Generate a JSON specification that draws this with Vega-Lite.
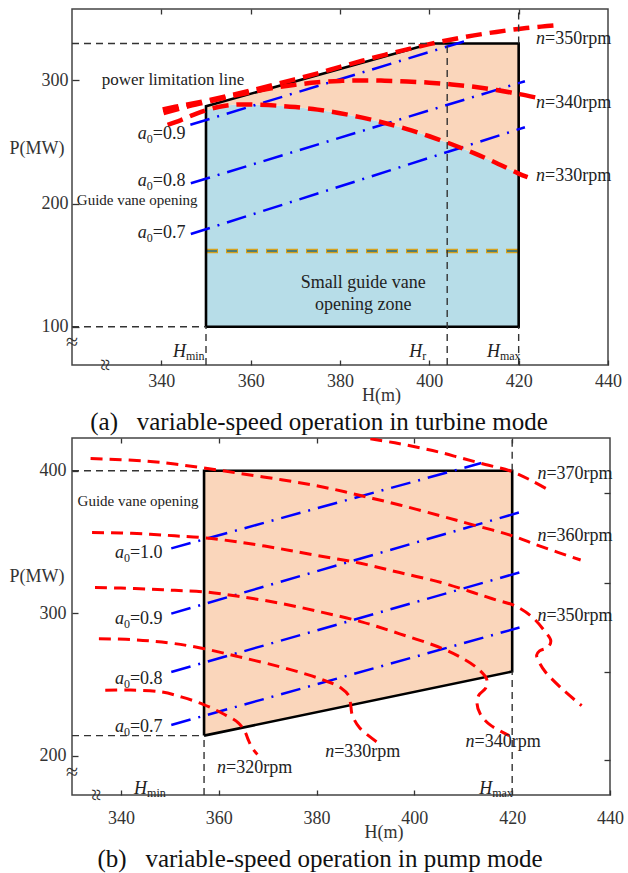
{
"$schema":"https://vega.github.io/schema/vega-lite/v6.json",
"padding":{"left":8,"top":7,"right":5,"bottom":0},
"spacing":0,
"config":{
 "view":{"stroke":"#444","strokeWidth":1.5},
 "font":"Liberation Serif",
 "axis":{"labelFont":"Liberation Serif","titleFont":"Liberation Serif","labelFontSize":18,"titleFontSize":18,"titleFontWeight":"normal","labelColor":"#333","titleColor":"#333","tickColor":"#333","tickWidth":1.3,"grid":false,"domain":false,"labelFlush":false,"labelOverlap":false},
 "title":{"font":"Liberation Serif","fontSize":25,"fontWeight":"normal","color":"#111"},
 "text":{"font":"Liberation Serif","color":"#222","baseline":"middle"}
},
"vconcat":[
{
"width":536,"height":356,
"title":{"text":"(a)\u2002\u2005variable-speed operation in turbine mode","orient":"bottom","anchor":"middle","dx":-21,"offset":6},
"encoding":{
 "x":{"field":"H","type":"quantitative","scale":{"domain":[320,440],"nice":false,"zero":false},"axis":{"orient":"bottom","values":[340,360,380,400,420,440],"tickSize":-5,"labelPadding":12,"title":"H(m)","titleX":309,"titleY":30,"titleAlign":"center","titleBaseline":"middle"}},
 "y":{"field":"P","type":"quantitative","scale":{"domain":[69,358],"nice":false,"zero":false},"axis":{"orient":"left","values":[100,200,300],"tickSize":-7,"labelPadding":11,"title":"P(MW)","titleAngle":0,"titleX":-35.5,"titleY":139.5,"titleAlign":"center","titleBaseline":"middle"}}
},
"resolve":{"axis":{"x":"independent","y":"independent"}},
"layer":[
 {"layer":[
  {"data":{"values":[
   {"H":350,"P":100,"P2":275.8},{"H":353,"P":100,"P2":278.6},{"H":356,"P":100,"P2":280.2},{"H":358,"P":100,"P2":280.5},{"H":362,"P":100,"P2":280.2},{"H":366,"P":100,"P2":279.5},{"H":370,"P":100,"P2":278.4},{"H":375,"P":100,"P2":276.3},{"H":380,"P":100,"P2":273.4},{"H":385,"P":100,"P2":269.8},{"H":390,"P":100,"P2":265.5},{"H":395,"P":100,"P2":260.5},{"H":400,"P":100,"P2":254.7},{"H":405,"P":100,"P2":248.2},{"H":410,"P":100,"P2":241},{"H":415,"P":100,"P2":233},{"H":420,"P":100,"P2":224.4}
  ]},
   "mark":{"type":"area","color":"#b7dde8","opacity":1},
   "encoding":{"y2":{"field":"P2"}}},
  {"data":{"values":[
   {"H":350,"P":275.8,"P2":279.1},{"H":353,"P":278.6,"P2":282.1},{"H":356,"P":280.2,"P2":285.2},{"H":358,"P":280.5,"P2":287.2},{"H":362,"P":280.2,"P2":291.2},{"H":366,"P":279.5,"P2":295.3},{"H":370,"P":278.4,"P2":299.3},{"H":375,"P":276.3,"P2":304.4},{"H":380,"P":273.4,"P2":309.4},{"H":385,"P":269.8,"P2":314.5},{"H":390,"P":265.5,"P2":319.5},{"H":395,"P":260.5,"P2":324.6},{"H":400,"P":254.7,"P2":329.6},{"H":400.4,"P":254.2,"P2":330},{"H":405,"P":248.2,"P2":330},{"H":410,"P":241,"P2":330},{"H":415,"P":233,"P2":330},{"H":420,"P":224.4,"P2":330}
  ]},
   "mark":{"type":"area","color":"#fad6bb","opacity":1},
   "encoding":{"y2":{"field":"P2"}}},
  {"data":{"values":[{"H":350,"H2":420,"P":161.5,"P2":161.5}]},
   "layer":[
    {"mark":{"type":"rule","color":"#d6a21e","strokeWidth":4.5,"strokeDash":[12,8]},"encoding":{"x2":{"field":"H2"},"y2":{"field":"P2"}}},
    {"mark":{"type":"rule","color":"#24708f","strokeWidth":1.6,"strokeDash":[10,10],"strokeDashOffset":-1},"encoding":{"x2":{"field":"H2"},"y2":{"field":"P2"}}}
   ]},
  {"data":{"values":[
   {"i":0,"H":350,"P":100},{"i":1,"H":350,"P":279.1},{"i":2,"H":400.4,"P":330},{"i":3,"H":420,"P":330},{"i":4,"H":420,"P":100},{"i":5,"H":350,"P":100}
  ]},
   "mark":{"type":"line","color":"#000","strokeWidth":2.6,"strokeJoin":"miter"},
   "encoding":{"order":{"field":"i","type":"quantitative"}}},
  {"data":{"values":[
   {"a0":"0.9","H":346.5,"P":264},{"a0":"0.9","H":409,"P":333},
   {"a0":"0.8","H":346.6,"P":216.5},{"a0":"0.8","H":421.4,"P":299.4},
   {"a0":"0.7","H":346.6,"P":175.3},{"a0":"0.7","H":421.4,"P":262}
  ]},
   "mark":{"type":"line","color":"#0000ff","strokeWidth":2.5,"strokeDash":[20,8,2,8],"clip":true},
   "encoding":{"detail":{"field":"a0"}}},
  {"data":{"values":[
   {"n":"350","i":0,"H":340.3,"P":276.5},{"n":"350","i":1,"H":345,"P":280},{"n":"350","i":2,"H":350,"P":283.5},{"n":"350","i":3,"H":355,"P":287.5},{"n":"350","i":4,"H":360,"P":291.8},{"n":"350","i":5,"H":365,"P":296.3},{"n":"350","i":6,"H":370,"P":301},{"n":"350","i":7,"H":375,"P":305.8},{"n":"350","i":8,"H":380,"P":311},{"n":"350","i":9,"H":385,"P":316},{"n":"350","i":10,"H":390,"P":320.8},{"n":"350","i":11,"H":395,"P":325.2},{"n":"350","i":12,"H":400,"P":329.5},{"n":"350","i":13,"H":405,"P":333.3},{"n":"350","i":14,"H":410,"P":336.6},{"n":"350","i":15,"H":415,"P":339.4},{"n":"350","i":16,"H":420,"P":341.8},{"n":"350","i":17,"H":425,"P":343.7},{"n":"350","i":18,"H":428.5,"P":344.8},
   {"n":"340","i":0,"H":340.5,"P":273.5},{"n":"340","i":1,"H":345,"P":278},{"n":"340","i":2,"H":350,"P":282.3},{"n":"340","i":3,"H":355,"P":286.5},{"n":"340","i":4,"H":360,"P":290.5},{"n":"340","i":5,"H":365,"P":293.8},{"n":"340","i":6,"H":370,"P":296.5},{"n":"340","i":7,"H":375,"P":298.5},{"n":"340","i":8,"H":380,"P":299.6},{"n":"340","i":9,"H":385,"P":300},{"n":"340","i":10,"H":390,"P":299.8},{"n":"340","i":11,"H":395,"P":299.2},{"n":"340","i":12,"H":400,"P":298.2},{"n":"340","i":13,"H":405,"P":296.8},{"n":"340","i":14,"H":410,"P":294.8},{"n":"340","i":15,"H":415,"P":292.2},{"n":"340","i":16,"H":420,"P":289},{"n":"340","i":17,"H":424,"P":286},
   {"n":"330","i":0,"H":341.4,"P":264},{"n":"330","i":1,"H":344.4,"P":267.8},{"n":"330","i":2,"H":347,"P":271.8},{"n":"330","i":3,"H":350,"P":275.8},{"n":"330","i":4,"H":353,"P":278.6},{"n":"330","i":5,"H":356,"P":280.2},{"n":"330","i":6,"H":358,"P":280.5},{"n":"330","i":7,"H":362,"P":280.2},{"n":"330","i":8,"H":366,"P":279.5},{"n":"330","i":9,"H":370,"P":278.4},{"n":"330","i":10,"H":375,"P":276.3},{"n":"330","i":11,"H":380,"P":273.4},{"n":"330","i":12,"H":385,"P":269.8},{"n":"330","i":13,"H":390,"P":265.5},{"n":"330","i":14,"H":395,"P":260.5},{"n":"330","i":15,"H":400,"P":254.7},{"n":"330","i":16,"H":405,"P":248.2},{"n":"330","i":17,"H":410,"P":241},{"n":"330","i":18,"H":415,"P":233},{"n":"330","i":19,"H":420,"P":224.4},{"n":"330","i":20,"H":422,"P":221.5}
  ]},
   "mark":{"type":"line","color":"#ff0000","strokeWidth":4.5,"strokeDash":[16,8],"interpolate":"catmull-rom","clip":true},
   "encoding":{"detail":{"field":"n"},"order":{"field":"i","type":"quantitative"}}},
  {"data":{"values":[{"H":425.9,"P":333.7,"rest":"=350rpm"},{"H":425.9,"P":282,"rest":"=340rpm"},{"H":425.9,"P":222.6,"rest":"=330rpm"}]},
   "layer":[
    {"mark":{"type":"text","align":"right","fontStyle":"italic","fontSize":18},"encoding":{"text":{"value":"n"}}},
    {"mark":{"type":"text","align":"left","fontSize":18},"encoding":{"text":{"field":"rest"}}}
   ]},
  {"data":{"values":[{"H":338.1,"P":256.3,"rest":"=0.9"},{"H":338.1,"P":218.5,"rest":"=0.8"},{"H":338.1,"P":175.9,"rest":"=0.7"}]},
   "layer":[
    {"mark":{"type":"text","align":"right","fontStyle":"italic","fontSize":18,"dx":-6},"encoding":{"text":{"value":"a"}}},
    {"mark":{"type":"text","align":"right","fontSize":12,"dy":5},"encoding":{"text":{"value":"0"}}},
    {"mark":{"type":"text","align":"left","fontSize":18},"encoding":{"text":{"field":"rest"}}}
   ]},
  {"data":{"values":[{"H":345.5,"P":79.7,"sub":"min"},{"H":398.4,"P":79.7,"sub":"r"},{"H":415.8,"P":79.7,"sub":"max"}]},
   "layer":[
    {"mark":{"type":"text","align":"right","fontStyle":"italic","fontSize":18},"encoding":{"text":{"value":"H"}}},
    {"mark":{"type":"text","align":"left","fontSize":12,"dy":4},"encoding":{"text":{"field":"sub"}}}
   ]},
  {"data":{"values":[{"H":342.6,"P":300,"label":"power limitation line"}]},
   "mark":{"type":"text","align":"center","fontSize":17},"encoding":{"text":{"field":"label"}}},
  {"data":{"values":[{"H":334.6,"P":203,"label":"Guide vane opening"}]},
   "mark":{"type":"text","align":"center","fontSize":15},"encoding":{"text":{"field":"label"}}},
  {"data":{"values":[{"H":385.2,"P":135.2,"label":"Small guide vane"},{"H":385.2,"P":118.1,"label":"opening zone"}]},
   "mark":{"type":"text","align":"center","fontSize":18},"encoding":{"text":{"field":"label"}}},
  {"data":{"values":[{"H":320,"P":87.5}]},
   "mark":{"type":"text","align":"center","fontSize":22,"color":"#333"},"encoding":{"text":{"value":"≈"}}},
  {"data":{"values":[{"H":327.3,"P":69}]},
   "mark":{"type":"text","align":"center","fontSize":22,"color":"#333","angle":90},"encoding":{"text":{"value":"≈"}}}
 ]},
 {"data":{"values":[
   {"H":320,"H2":400.4,"P":330,"P2":330},
   {"H":320,"H2":350,"P":100,"P2":100},
   {"H":350,"H2":350,"P":69,"P2":100},
   {"H":420,"H2":420,"P":69,"P2":100},
   {"H":420,"H2":420,"P":330,"P2":358},
   {"H":404,"H2":404,"P":69,"P2":330}
  ]},
  "mark":{"type":"rule","color":"#333","strokeWidth":1.4,"strokeDash":[7,5]},
  "encoding":{
   "x":{"field":"H","type":"quantitative","scale":{"domain":[320,440],"nice":false,"zero":false},"axis":{"orient":"top","values":[340,360,380,400,420],"labels":false,"tickSize":-5,"title":null}},
   "x2":{"field":"H2"},
   "y":{"field":"P","type":"quantitative","scale":{"domain":[69,358],"nice":false,"zero":false},"axis":null},
   "y2":{"field":"P2"}
  }}
]
},
{
"width":538,"height":357,
"title":{"text":"(b)\u2002\u2005variable-speed operation in pump mode","orient":"bottom","anchor":"middle","dx":-21,"offset":6},
"encoding":{
 "x":{"field":"H","type":"quantitative","scale":{"domain":[330,440],"nice":false,"zero":false},"axis":{"orient":"bottom","values":[340,360,380,400,420,440],"tickSize":-5,"labelPadding":19,"title":"H(m)","titleX":311.5,"titleY":37.4,"titleAlign":"center","titleBaseline":"middle"}},
 "y":{"field":"P","type":"quantitative","scale":{"domain":[172.3,423],"nice":false,"zero":false},"axis":{"orient":"left","values":[200,300,400],"tickSize":-6,"labelPadding":12,"title":"P(MW)","titleAngle":0,"titleX":-35.5,"titleY":138.3,"titleAlign":"center","titleBaseline":"middle"}}
},
"resolve":{"axis":{"x":"independent","y":"independent"}},
"layer":[
 {"layer":[
  {"data":{"values":[{"H":357,"P":214,"P2":400},{"H":420,"P":259,"P2":400}]},
   "mark":{"type":"area","color":"#fad6bb","opacity":1},
   "encoding":{"y2":{"field":"P2"}}},
  {"data":{"values":[
   {"i":0,"H":357,"P":214},{"i":1,"H":357,"P":400},{"i":2,"H":420,"P":400},{"i":3,"H":420,"P":259},{"i":4,"H":357,"P":214}
  ]},
   "mark":{"type":"line","color":"#000","strokeWidth":2.6,"strokeJoin":"miter"},
   "encoding":{"order":{"field":"i","type":"quantitative"}}},
  {"data":{"values":[
   {"a0":"1.0","H":350.3,"P":345.5},{"a0":"1.0","H":413.7,"P":405.4},
   {"a0":"0.9","H":350.3,"P":299.7},{"a0":"0.9","H":421.5,"P":370.8},
   {"a0":"0.8","H":350.3,"P":258.7},{"a0":"0.8","H":421.5,"P":328.6},
   {"a0":"0.7","H":350.3,"P":221.5},{"a0":"0.7","H":421.5,"P":289.9}
  ]},
   "mark":{"type":"line","color":"#0000ff","strokeWidth":2.5,"strokeDash":[20,8,2,8],"clip":true},
   "encoding":{"detail":{"field":"a0"}}},
  {"data":{"values":[
   {"n":"370","i":0,"H":391,"P":422.5},{"n":"370","i":1,"H":396,"P":419.6},{"n":"370","i":2,"H":401.4,"P":415.9},{"n":"370","i":3,"H":405.5,"P":412.7},{"n":"370","i":4,"H":409.6,"P":408.9},{"n":"370","i":5,"H":414.5,"P":404.4},{"n":"370","i":6,"H":419.5,"P":400},{"n":"370","i":7,"H":424,"P":393},{"n":"370","i":8,"H":428,"P":385.4},
   {"n":"360","i":0,"H":333.8,"P":408.6},{"n":"360","i":1,"H":340,"P":407.8},{"n":"360","i":2,"H":346,"P":406.5},{"n":"360","i":3,"H":351,"P":404.7},{"n":"360","i":4,"H":356.8,"P":402},{"n":"360","i":5,"H":364,"P":398.3},{"n":"360","i":6,"H":372.8,"P":393.7},{"n":"360","i":7,"H":381,"P":388.8},{"n":"360","i":8,"H":389,"P":382.6},{"n":"360","i":9,"H":397,"P":376},{"n":"360","i":10,"H":405.5,"P":368.2},{"n":"360","i":11,"H":412,"P":362},{"n":"360","i":12,"H":419.4,"P":355},{"n":"360","i":13,"H":426,"P":346.7},{"n":"360","i":14,"H":434,"P":337.3},
   {"n":"350","i":0,"H":334.1,"P":356.6},{"n":"350","i":1,"H":340,"P":356.3},{"n":"350","i":2,"H":346,"P":355.4},{"n":"350","i":3,"H":351,"P":354.3},{"n":"350","i":4,"H":356.8,"P":353},{"n":"350","i":5,"H":364,"P":350},{"n":"350","i":6,"H":372,"P":345.6},{"n":"350","i":7,"H":380,"P":340.6},{"n":"350","i":8,"H":389,"P":335},{"n":"350","i":9,"H":397,"P":328.5},{"n":"350","i":10,"H":405.5,"P":321.5},{"n":"350","i":11,"H":412,"P":314.5},{"n":"350","i":12,"H":416.5,"P":309.5},{"n":"350","i":13,"H":420.5,"P":305.3},{"n":"350","i":14,"H":424,"P":297.5},{"n":"350","i":15,"H":426.5,"P":288},{"n":"350","i":16,"H":427.9,"P":280.5},{"n":"350","i":17,"H":427.3,"P":276},{"n":"350","i":18,"H":425.6,"P":273.5},{"n":"350","i":19,"H":425,"P":270.5},{"n":"350","i":20,"H":425.6,"P":265},{"n":"350","i":21,"H":426.8,"P":258.7},{"n":"350","i":22,"H":430,"P":247.5},{"n":"350","i":23,"H":434.2,"P":235},
   {"n":"340","i":0,"H":334.7,"P":318},{"n":"340","i":1,"H":340,"P":317.6},{"n":"340","i":2,"H":346,"P":316.8},{"n":"340","i":3,"H":351,"P":316},{"n":"340","i":4,"H":356.8,"P":315},{"n":"340","i":5,"H":364,"P":311.8},{"n":"340","i":6,"H":372.8,"P":306.8},{"n":"340","i":7,"H":381,"P":300.7},{"n":"340","i":8,"H":389.2,"P":293.9},{"n":"340","i":9,"H":397,"P":285.5},{"n":"340","i":10,"H":405.5,"P":275.5},{"n":"340","i":11,"H":410,"P":268},{"n":"340","i":12,"H":413,"P":261},{"n":"340","i":13,"H":414.8,"P":253.5},{"n":"340","i":14,"H":414.6,"P":247.5},{"n":"340","i":15,"H":413.2,"P":242.5},{"n":"340","i":16,"H":412.8,"P":237},{"n":"340","i":17,"H":413.5,"P":229},{"n":"340","i":18,"H":415.5,"P":221.5},{"n":"340","i":19,"H":419.4,"P":214},
   {"n":"330","i":0,"H":335.5,"P":282},{"n":"330","i":1,"H":341,"P":281.6},{"n":"330","i":2,"H":346,"P":280.5},{"n":"330","i":3,"H":351,"P":278.6},{"n":"330","i":4,"H":356.8,"P":275.2},{"n":"330","i":5,"H":364,"P":269.5},{"n":"330","i":6,"H":372,"P":262.8},{"n":"330","i":7,"H":378,"P":257},{"n":"330","i":8,"H":382,"P":252.3},{"n":"330","i":9,"H":385,"P":247.5},{"n":"330","i":10,"H":386.6,"P":242},{"n":"330","i":11,"H":387,"P":235},{"n":"330","i":12,"H":387.3,"P":228.5},{"n":"330","i":13,"H":388.8,"P":219.5},{"n":"330","i":14,"H":392.4,"P":209.4},
   {"n":"320","i":0,"H":336.8,"P":245.9},{"n":"320","i":1,"H":342,"P":246},{"n":"320","i":2,"H":348.2,"P":244.7},{"n":"320","i":3,"H":352.5,"P":241},{"n":"320","i":4,"H":356.8,"P":236},{"n":"320","i":5,"H":360.8,"P":229.5},{"n":"320","i":6,"H":364,"P":223},{"n":"320","i":7,"H":365.4,"P":216.5},{"n":"320","i":8,"H":366,"P":211.4},{"n":"320","i":9,"H":366.8,"P":205.5},{"n":"320","i":10,"H":367.9,"P":200.8}
  ]},
   "mark":{"type":"line","color":"#ff0000","strokeWidth":3,"strokeDash":[12,7],"interpolate":"catmull-rom","clip":true},
   "encoding":{"detail":{"field":"n"},"order":{"field":"i","type":"quantitative"}}},
  {"data":{"values":[{"H":427,"P":397.4,"rest":"=370rpm"},{"H":427,"P":354.4,"rest":"=360rpm"},{"H":427,"P":297.9,"rest":"=350rpm"},{"H":412.3,"P":209.4,"rest":"=340rpm"},{"H":383.6,"P":202.3,"rest":"=330rpm"},{"H":361.5,"P":191.3,"rest":"=320rpm"}]},
   "layer":[
    {"mark":{"type":"text","align":"right","fontStyle":"italic","fontSize":18},"encoding":{"text":{"value":"n"}}},
    {"mark":{"type":"text","align":"left","fontSize":18},"encoding":{"text":{"field":"rest"}}}
   ]},
  {"data":{"values":[{"H":341.85,"P":342,"rest":"=1.0"},{"H":341.85,"P":296.2,"rest":"=0.9"},{"H":341.85,"P":254,"rest":"=0.8"},{"H":341.85,"P":220,"rest":"=0.7"}]},
   "layer":[
    {"mark":{"type":"text","align":"right","fontStyle":"italic","fontSize":18,"dx":-6},"encoding":{"text":{"value":"a"}}},
    {"mark":{"type":"text","align":"right","fontSize":12,"dy":5},"encoding":{"text":{"value":"0"}}},
    {"mark":{"type":"text","align":"left","fontSize":18},"encoding":{"text":{"field":"rest"}}}
   ]},
  {"data":{"values":[{"H":345.35,"P":176.5,"sub":"min"},{"H":415.9,"P":176.5,"sub":"max"}]},
   "layer":[
    {"mark":{"type":"text","align":"right","fontStyle":"italic","fontSize":18},"encoding":{"text":{"value":"H"}}},
    {"mark":{"type":"text","align":"left","fontSize":12,"dy":4},"encoding":{"text":{"field":"sub"}}}
   ]},
  {"data":{"values":[{"H":343.5,"P":379.1,"label":"Guide vane opening"}]},
   "mark":{"type":"text","align":"center","fontSize":15},"encoding":{"text":{"field":"label"}}},
  {"data":{"values":[{"H":330,"P":188.2}]},
   "mark":{"type":"text","align":"center","fontSize":22,"color":"#333"},"encoding":{"text":{"value":"≈"}}},
  {"data":{"values":[{"H":334.9,"P":172.3}]},
   "mark":{"type":"text","align":"center","fontSize":22,"color":"#333","angle":90},"encoding":{"text":{"value":"≈"}}}
 ]},
 {"data":{"values":[
   {"H":330,"H2":357,"P":400,"P2":400},
   {"H":330,"H2":357,"P":214,"P2":214},
   {"H":357,"H2":357,"P":172.3,"P2":214},
   {"H":420,"H2":420,"P":172.3,"P2":259},
   {"H":420,"H2":420,"P":400,"P2":423}
  ]},
  "mark":{"type":"rule","color":"#333","strokeWidth":1.4,"strokeDash":[7,5]},
  "encoding":{
   "x":{"field":"H","type":"quantitative","scale":{"domain":[330,440],"nice":false,"zero":false},"axis":{"orient":"top","values":[340,360,380,400,420],"labels":false,"tickSize":-5,"title":null}},
   "x2":{"field":"H2"},
   "y":{"field":"P","type":"quantitative","scale":{"domain":[172.3,423],"nice":false,"zero":false},"axis":{"orient":"right","values":[196.7,258.7,321.3,384.2],"labels":false,"tickSize":-6,"title":null}},
   "y2":{"field":"P2"}
  }}
]
}
]
}
